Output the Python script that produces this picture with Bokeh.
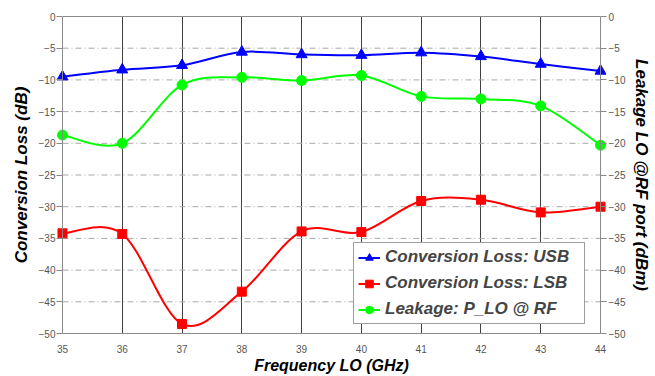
from bokeh.plotting import figure
from bokeh.models import (Range1d, LinearAxis, FixedTicker, Legend, LegendItem,
                          ColumnDataSource, Span)
from bokeh.embed import file_html
from bokeh.resources import INLINE

freq = [35, 36, 37, 38, 39, 40, 41, 42, 43, 44]
usb = [-9.5, -8.4, -7.7, -5.6, -6.0, -6.1, -5.7, -6.3, -7.5, -8.6]
lsb = [-34.2, -34.3, -48.5, -43.4, -33.9, -34.0, -29.1, -28.9, -30.9, -30.0]
leak = [-18.7, -20.0, -10.8, -9.6, -10.1, -9.3, -12.6, -13.0, -14.1, -20.3]
y_ticks = [-50, -45, -40, -35, -30, -25, -20, -15, -10, -5, 0]

FONT = "Liberation Sans"
PAD = 0.1  # small room so edge markers are not clipped by the frame


def smooth_source(x, y):
    n = len(x)
    d = dict(x0=[], y0=[], x1=[], y1=[], cx0=[], cy0=[], cx1=[], cy1=[])
    for i in range(n - 1):
        a = i - 1 if i > 0 else i
        b = i + 2 if i + 2 < n else i + 1
        d["x0"].append(x[i]); d["y0"].append(y[i])
        d["x1"].append(x[i + 1]); d["y1"].append(y[i + 1])
        d["cx0"].append(x[i] + (x[i + 1] - x[a]) / 6.0)
        d["cy0"].append(y[i] + (y[i + 1] - y[a]) / 6.0)
        d["cx1"].append(x[i + 1] - (x[b] - x[i]) / 6.0)
        d["cy1"].append(y[i + 1] - (y[b] - y[i]) / 6.0)
    return ColumnDataSource(d)


x_lo, x_hi = freq[0], freq[-1]
y_lo, y_hi = y_ticks[0], y_ticks[-1]

p = figure(width=655, height=376, x_range=Range1d(x_lo - PAD, x_hi + PAD), y_range=Range1d(y_lo, y_hi),
           output_backend="svg", toolbar_location=None,
           min_border_left=56, min_border_right=49, min_border_top=16, min_border_bottom=43)
p.extra_y_ranges = {"right": Range1d(y_lo, y_hi)}
p.background_fill_color = "white"
p.border_fill_color = "white"
p.outline_line_color = None

xa = p.below[0]
ya = p.left[0]

# grids
p.xgrid.ticker = FixedTicker(ticks=freq[1:-1])
p.xgrid.grid_line_color = "#404040"
p.xgrid.grid_line_width = 1
p.ygrid.grid_line_color = None

AXIS_GRAY = "#8a8a8a"
p.segment(x0=[x_lo] * (len(y_ticks) - 2), x1=[x_hi] * (len(y_ticks) - 2),
          y0=y_ticks[1:-1], y1=y_ticks[1:-1],
          line_color="#a8a8a8", line_width=1, line_dash="6 3 1 3")
p.add_layout(Span(location=x_lo, dimension="height", line_color=AXIS_GRAY, line_width=1))
p.add_layout(Span(location=x_hi, dimension="height", line_color=AXIS_GRAY, line_width=1))

right_axis = LinearAxis(y_range_name="right")
p.add_layout(right_axis, "right")
top_axis = LinearAxis(ticker=FixedTicker(ticks=[]), major_tick_out=0, major_tick_in=0,
                      minor_tick_out=0, minor_tick_in=0, axis_line_color=AXIS_GRAY,
                      bounds=(x_lo, x_hi), major_label_standoff=0)
p.add_layout(top_axis, "above")

for ax in [xa, ya, right_axis]:
    ax.axis_line_color = AXIS_GRAY
    ax.major_tick_line_color = AXIS_GRAY
    ax.major_tick_out = 0
    ax.major_tick_in = 0
    ax.minor_tick_out = 0
    ax.minor_tick_in = 0
    ax.major_label_text_font = FONT
    ax.major_label_text_font_size = "10px"
    ax.major_label_text_color = "#555555"
    ax.axis_label_text_font = FONT
    ax.axis_label_text_font_style = "bold italic"
    ax.axis_label_text_color = "black"

xa.ticker = FixedTicker(ticks=freq)
xa.bounds = (x_lo, x_hi)
xa.axis_label = "Frequency LO (GHz)"
xa.axis_label_text_font_size = "16px"
xa.major_label_standoff = 11
xa.axis_label_standoff = 1

ya.ticker = FixedTicker(ticks=y_ticks)
ya.axis_label = "Conversion Loss (dB)"
ya.axis_label_text_font_size = "17px"
ya.axis_line_color = None
ya.major_tick_in = 6
ya.major_label_standoff = 1
ya.axis_label_standoff = 5

right_axis.ticker = FixedTicker(ticks=y_ticks)
right_axis.axis_label = "Leakage LO @RF port (dBm)"
right_axis.axis_label_text_font_size = "17px"
right_axis.axis_line_color = None
right_axis.major_tick_in = 6
right_axis.major_label_standoff = 2
right_axis.axis_label_standoff = 4
if "axis_label_orientation" in right_axis.properties():
    right_axis.axis_label_orientation = "vertical"

# series
r_usb_l = p.bezier("x0", "y0", "x1", "y1", "cx0", "cy0", "cx1", "cy1",
                   source=smooth_source(freq, usb), line_color="#0000ff", line_width=2)
r_usb_m = p.scatter(freq, usb, marker="triangle", size=11, fill_color="#0000ff", line_color="#0000ff")
r_lsb_l = p.bezier("x0", "y0", "x1", "y1", "cx0", "cy0", "cx1", "cy1",
                   source=smooth_source(freq, lsb), line_color="#ff0000", line_width=2)
r_lsb_m = p.scatter(freq, lsb, marker="square", size=9, fill_color="#ff0000", line_color="#ff0000")
r_leak_l = p.bezier("x0", "y0", "x1", "y1", "cx0", "cy0", "cx1", "cy1",
                    source=smooth_source(freq, leak), line_color="#00ff00", line_width=2,
                    y_range_name="right")
r_leak_m = p.scatter(freq, leak, marker="circle", size=10, fill_color="#00ff00", line_color="#00ff00",
                     y_range_name="right")

legend = Legend(items=[
    LegendItem(label="Conversion Loss: USB", renderers=[r_usb_l, r_usb_m]),
    LegendItem(label="Conversion Loss: LSB", renderers=[r_lsb_l, r_lsb_m]),
    LegendItem(label="Leakage: P_LO @ RF", renderers=[r_leak_l, r_leak_m]),
], location=(297, 9))
legend.label_text_font = FONT
legend.label_text_font_style = "bold italic"
legend.label_text_font_size = "17px"
legend.label_height = 19
legend.spacing = 6
legend.padding = 4
legend.margin = 0
legend.glyph_width = 22
legend.glyph_height = 19
legend.label_standoff = 5
legend.label_width = 195
legend.border_line_color = "#404040"
legend.border_line_width = 1
legend.background_fill_alpha = 1.0
p.add_layout(legend)

open("out.html", "w").write(file_html(p, INLINE))
